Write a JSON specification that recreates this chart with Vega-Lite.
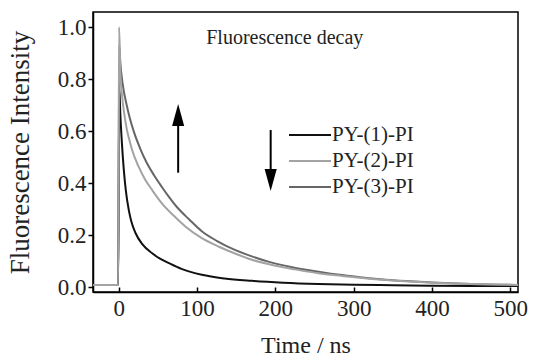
{
  "$schema": "https://vega.github.io/schema/vega-lite/v6.json",
  "width": 425,
  "height": 280,
  "autosize": {"type": "none"},
  "padding": {"left": 93, "top": 12, "right": 15, "bottom": 68},
  "background": "white",
  "config": {
    "font": "Liberation Serif",
    "view": {"stroke": "black", "strokeWidth": 1.5},
    "axis": {"grid": false, "domainColor": "black", "domainWidth": 1.5, "tickColor": "black", "tickWidth": 1.5, "labelColor": "#222", "titleColor": "#222", "titleFontWeight": "normal", "labelFont": "Liberation Serif", "titleFont": "Liberation Serif"},
    "legend": {"labelFont": "Liberation Serif"},
    "text": {"font": "Liberation Serif"}
  },
  "layer": [
    {
      "data": {"values": [
        {"t": -33, "v": 0.008, "s": "PY-(1)-PI"},
        {"t": -0.8, "v": 0.008, "s": "PY-(1)-PI"},
        {"t": 0.5, "v": 0.77, "s": "PY-(1)-PI"},
        {"t": 2, "v": 0.66, "s": "PY-(1)-PI"},
        {"t": 4, "v": 0.55, "s": "PY-(1)-PI"},
        {"t": 6.4, "v": 0.45, "s": "PY-(1)-PI"},
        {"t": 9, "v": 0.37, "s": "PY-(1)-PI"},
        {"t": 12.8, "v": 0.295, "s": "PY-(1)-PI"},
        {"t": 16, "v": 0.252, "s": "PY-(1)-PI"},
        {"t": 21.3, "v": 0.208, "s": "PY-(1)-PI"},
        {"t": 30, "v": 0.165, "s": "PY-(1)-PI"},
        {"t": 42.6, "v": 0.13, "s": "PY-(1)-PI"},
        {"t": 52, "v": 0.11, "s": "PY-(1)-PI"},
        {"t": 64, "v": 0.092, "s": "PY-(1)-PI"},
        {"t": 80, "v": 0.07, "s": "PY-(1)-PI"},
        {"t": 106, "v": 0.047, "s": "PY-(1)-PI"},
        {"t": 135, "v": 0.033, "s": "PY-(1)-PI"},
        {"t": 170, "v": 0.024, "s": "PY-(1)-PI"},
        {"t": 210, "v": 0.017, "s": "PY-(1)-PI"},
        {"t": 255, "v": 0.012, "s": "PY-(1)-PI"},
        {"t": 300, "v": 0.009, "s": "PY-(1)-PI"},
        {"t": 350, "v": 0.007, "s": "PY-(1)-PI"},
        {"t": 400, "v": 0.005, "s": "PY-(1)-PI"},
        {"t": 450, "v": 0.004, "s": "PY-(1)-PI"},
        {"t": 510, "v": 0.004, "s": "PY-(1)-PI"},

        {"t": -33, "v": 0.008, "s": "PY-(3)-PI"},
        {"t": -0.8, "v": 0.008, "s": "PY-(3)-PI"},
        {"t": 0.5, "v": 0.93, "s": "PY-(3)-PI"},
        {"t": 2, "v": 0.86, "s": "PY-(3)-PI"},
        {"t": 5, "v": 0.78, "s": "PY-(3)-PI"},
        {"t": 10, "v": 0.7, "s": "PY-(3)-PI"},
        {"t": 14, "v": 0.65, "s": "PY-(3)-PI"},
        {"t": 20, "v": 0.59, "s": "PY-(3)-PI"},
        {"t": 27.7, "v": 0.53, "s": "PY-(3)-PI"},
        {"t": 35, "v": 0.482, "s": "PY-(3)-PI"},
        {"t": 45, "v": 0.43, "s": "PY-(3)-PI"},
        {"t": 55, "v": 0.385, "s": "PY-(3)-PI"},
        {"t": 64, "v": 0.347, "s": "PY-(3)-PI"},
        {"t": 75, "v": 0.305, "s": "PY-(3)-PI"},
        {"t": 90, "v": 0.26, "s": "PY-(3)-PI"},
        {"t": 106, "v": 0.215, "s": "PY-(3)-PI"},
        {"t": 125, "v": 0.178, "s": "PY-(3)-PI"},
        {"t": 149, "v": 0.142, "s": "PY-(3)-PI"},
        {"t": 170, "v": 0.118, "s": "PY-(3)-PI"},
        {"t": 192, "v": 0.097, "s": "PY-(3)-PI"},
        {"t": 220, "v": 0.077, "s": "PY-(3)-PI"},
        {"t": 255, "v": 0.059, "s": "PY-(3)-PI"},
        {"t": 285, "v": 0.046, "s": "PY-(3)-PI"},
        {"t": 308, "v": 0.038, "s": "PY-(3)-PI"},
        {"t": 350, "v": 0.026, "s": "PY-(3)-PI"},
        {"t": 400, "v": 0.018, "s": "PY-(3)-PI"},
        {"t": 450, "v": 0.012, "s": "PY-(3)-PI"},
        {"t": 510, "v": 0.008, "s": "PY-(3)-PI"},

        {"t": -33, "v": 0.008, "s": "PY-(2)-PI"},
        {"t": -0.8, "v": 0.008, "s": "PY-(2)-PI"},
        {"t": 0.3, "v": 1.0, "s": "PY-(2)-PI"},
        {"t": 2, "v": 0.82, "s": "PY-(2)-PI"},
        {"t": 4, "v": 0.74, "s": "PY-(2)-PI"},
        {"t": 7, "v": 0.665, "s": "PY-(2)-PI"},
        {"t": 10, "v": 0.61, "s": "PY-(2)-PI"},
        {"t": 14, "v": 0.56, "s": "PY-(2)-PI"},
        {"t": 17, "v": 0.527, "s": "PY-(2)-PI"},
        {"t": 25, "v": 0.465, "s": "PY-(2)-PI"},
        {"t": 33, "v": 0.417, "s": "PY-(2)-PI"},
        {"t": 42.6, "v": 0.373, "s": "PY-(2)-PI"},
        {"t": 55, "v": 0.322, "s": "PY-(2)-PI"},
        {"t": 70, "v": 0.275, "s": "PY-(2)-PI"},
        {"t": 85, "v": 0.233, "s": "PY-(2)-PI"},
        {"t": 105, "v": 0.19, "s": "PY-(2)-PI"},
        {"t": 128, "v": 0.155, "s": "PY-(2)-PI"},
        {"t": 150, "v": 0.127, "s": "PY-(2)-PI"},
        {"t": 170, "v": 0.105, "s": "PY-(2)-PI"},
        {"t": 200, "v": 0.082, "s": "PY-(2)-PI"},
        {"t": 225, "v": 0.068, "s": "PY-(2)-PI"},
        {"t": 255, "v": 0.053, "s": "PY-(2)-PI"},
        {"t": 285, "v": 0.043, "s": "PY-(2)-PI"},
        {"t": 308, "v": 0.036, "s": "PY-(2)-PI"},
        {"t": 350, "v": 0.025, "s": "PY-(2)-PI"},
        {"t": 400, "v": 0.017, "s": "PY-(2)-PI"},
        {"t": 450, "v": 0.012, "s": "PY-(2)-PI"},
        {"t": 510, "v": 0.008, "s": "PY-(2)-PI"}
      ]},
      "mark": {"type": "line", "strokeWidth": 2, "interpolate": "monotone", "clip": true},
      "encoding": {
        "x": {"field": "t", "type": "quantitative", "scale": {"domain": [-33, 510], "nice": false, "zero": false},
          "axis": {"title": "Time / ns", "values": [0, 100, 200, 300, 400, 500], "tickSize": -5, "labelPadding": 10, "labelFontSize": 23, "titleFontSize": 24, "titlePadding": 13, "labelFont": "Liberation Serif", "titleFont": "Liberation Serif"}},
        "y": {"field": "v", "type": "quantitative", "scale": {"domain": [-0.019, 1.058], "nice": false, "zero": false},
          "axis": {"title": "Fluorescence Intensity", "values": [0, 0.2, 0.4, 0.6, 0.8, 1.0], "format": ".1f", "tickSize": 5, "labelPadding": 2, "labelFontSize": 23, "titleFontSize": 27, "titlePadding": 23, "labelFont": "Liberation Serif", "titleFont": "Liberation Serif"}},
        "color": {"field": "s", "type": "nominal",
          "scale": {"domain": ["PY-(1)-PI", "PY-(2)-PI", "PY-(3)-PI"], "range": ["#111111", "#a3a3a3", "#666666"]},
          "legend": {"title": null, "orient": "none", "legendX": 195, "legendY": 110, "symbolType": "stroke", "symbolSize": 1764, "symbolStrokeWidth": 2, "labelFontSize": 21, "labelFont": "Liberation Serif", "labelColor": "#222", "labelOffset": 0, "rowPadding": 0, "clipHeight": 26, "padding": 0}},
        "order": {"field": "s", "type": "nominal", "sort": "descending"}
      }
    },
    {
      "data": {"values": [{"t": 212, "v": 0.958, "label": "Fluorescence decay"}]},
      "mark": {"type": "text", "fontSize": 20, "font": "Liberation Serif", "color": "#222", "align": "center", "baseline": "middle"},
      "encoding": {
        "x": {"field": "t", "type": "quantitative"},
        "y": {"field": "v", "type": "quantitative"},
        "text": {"field": "label"}
      }
    },
    {
      "data": {"values": [
        {"t": 75.8, "y1": 0.44, "y2": 0.64},
        {"t": 194, "y1": 0.604, "y2": 0.43}
      ]},
      "mark": {"type": "rule", "color": "black", "strokeWidth": 2},
      "encoding": {
        "x": {"field": "t", "type": "quantitative"},
        "y": {"field": "y1", "type": "quantitative"},
        "y2": {"field": "y2"}
      }
    },
    {
      "data": {"values": [
        {"t": 75.8, "v": 0.6615, "dir": "up"},
        {"t": 194, "v": 0.4115, "dir": "down"}
      ]},
      "mark": {"type": "point", "filled": true, "color": "black", "opacity": 1, "size": 484, "strokeWidth": 0},
      "encoding": {
        "x": {"field": "t", "type": "quantitative"},
        "y": {"field": "v", "type": "quantitative"},
        "shape": {"field": "dir", "type": "nominal", "legend": null,
          "scale": {"domain": ["up", "down"], "range": ["M0,-1L0.55,1L-0.55,1Z", "M0,1L0.55,-1L-0.55,-1Z"]}}
      }
    }
  ]
}
